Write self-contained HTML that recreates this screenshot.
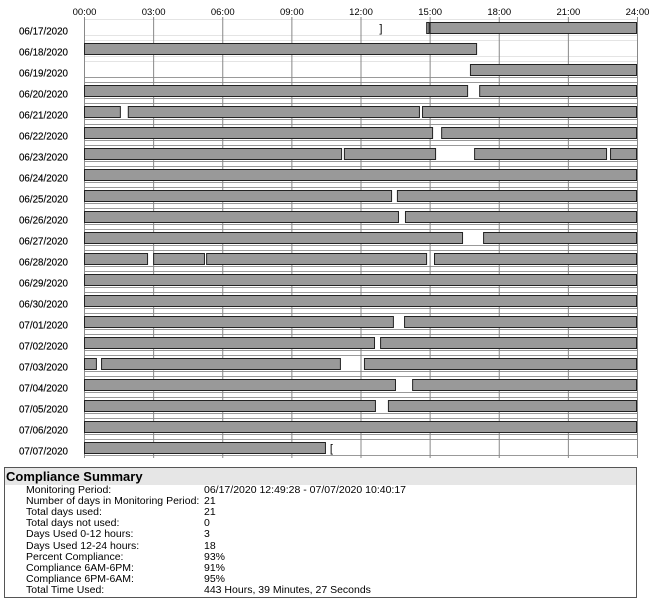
<!DOCTYPE html>
<html><head><meta charset="utf-8"><style>
body{margin:0;background:#fff;font-family:"Liberation Sans",Arial,sans-serif;}
#wrap{position:relative;width:667px;height:613px;}
#sum{position:absolute;left:4px;top:467px;width:633px;height:131px;border:1px solid #555;box-sizing:border-box;overflow:hidden;}
#sum .hd{background:#e6e6e6;font-weight:bold;font-size:13px;height:17px;line-height:17px;padding-left:1px;}
#sum .r{position:absolute;left:21px;font-size:10.5px;line-height:11px;}
#sum .v{position:absolute;left:199px;font-size:10.5px;line-height:11px;}
</style></head><body>
<div id="wrap">
<svg id="chart" width="667" height="465" style="position:absolute;left:0;top:0"></svg>
<div id="sum">
<div class="hd">Compliance Summary</div>
</div>
</div>
<script>
const days=["06/17/2020","06/18/2020","06/19/2020","06/20/2020","06/21/2020","06/22/2020","06/23/2020","06/24/2020","06/25/2020","06/26/2020","06/27/2020","06/28/2020","06/29/2020","06/30/2020","07/01/2020","07/02/2020","07/03/2020","07/04/2020","07/05/2020","07/06/2020","07/07/2020"];
const tickLabels=["00:00","03:00","06:00","09:00","12:00","15:00","18:00","21:00","24:00"];
const segDay=[0,0,1,2,3,3,4,4,4,5,5,6,6,6,6,7,8,8,9,9,10,10,11,11,11,11,12,13,14,14,15,15,16,16,16,17,17,18,18,19,20];
const segStart=[14.85,15.0,0,16.75,0,17.15,0,1.9,14.67,0,15.5,0,11.28,16.93,22.83,0,0,13.58,0,13.93,0,17.32,0,3.0,5.3,15.19,0,0,0,13.89,0,12.85,0,0.74,12.15,0,14.24,0,13.19,0,0];
const segEnd=[15.0,24,17.06,24,16.67,24,1.6,14.58,24,15.15,24,11.2,15.28,22.7,24,24,13.37,24,13.67,24,16.45,24,2.78,5.25,14.89,24,24,24,13.45,24,12.63,24,0.56,11.15,24,13.54,24,12.67,24,24,10.5];
const brackets=[[0,12.82,"]"],[20,10.67,"["]];
const sumLabels=["Monitoring Period:","Number of days in Monitoring Period:","Total days used:","Total days not used:","Days Used 0-12 hours:","Days Used 12-24 hours:","Percent Compliance:","Compliance 6AM-6PM:","Compliance 6PM-6AM:","Total Time Used:"];
const sumValues=["06/17/2020 12:49:28 - 07/07/2020 10:40:17","21","21","0","3","18","93%","91%","95%","443 Hours, 39 Minutes, 27 Seconds"];

const NS="http://www.w3.org/2000/svg",svg=document.getElementById('chart');
const X0=84,X1=637,xs=h=>X0+(X1-X0)*h/24,rowTop=i=>22+21*i;
function mk(t,a,p){const e=document.createElementNS(NS,t);for(const k in a)e.setAttribute(k,a[k]);(p||svg).appendChild(e);return e;}
days.forEach((d,i)=>{
  const y1=rowTop(i)-2.5,y2=rowTop(i)+13.5;
  const l1=mk('line',{x1:X0,x2:X1,y1:y1,y2:y1,stroke:i<3?'#e4e4e4':'#999','stroke-width':1});
  
  
  const l2=mk('line',{x1:X0,x2:X1,y1:y2,y2:y2,stroke:i<2?'#e4e4e4':'#999','stroke-width':1});
  
  
  const t=mk('text',{x:68,y:rowTop(i)+12.5,'text-anchor':'end','font-size':'9.8',fill:'#000',stroke:'#000','stroke-width':'0.15'});
  t.textContent=d;
  
  
});
tickLabels.forEach((s,k)=>{
  const x=xs(k*3)+0.5;
  const l=mk('line',{x1:x,x2:x,y1:17,y2:rowTop(days.length)-5,stroke:'#888','stroke-width':1});
  
  
  const t=mk('text',{x:x,y:15,'text-anchor':'middle','font-size':'9.5',fill:'#000'});
  t.textContent=s;
  
  
});
segDay.forEach((d,i)=>{
  const x=xs(segStart[i]),w=Math.max(1.5,xs(segEnd[i])-x);
  const r=mk('rect',{x:x+0.5,y:rowTop(d)+0.5,width:w-1,height:11,fill:'#999',stroke:'#222','stroke-width':1});
  
  
});
brackets.forEach(b=>{
  const t=mk('text',{x:xs(b[1]),y:rowTop(b[0])+10,'font-size':'11',fill:'#000'});
  t.textContent=b[2];
  
  
});
const sum=document.getElementById('sum');
sumLabels.forEach((s,i)=>{
  const a=document.createElement('div');a.className='r';a.style.top=(17+i*11.1)+'px';a.textContent=s;
  
  
  sum.appendChild(a);
  const b=document.createElement('div');b.className='v';b.style.top=(17+i*11.1)+'px';b.textContent=sumValues[i];
  
  
  sum.appendChild(b);
});
</script>
</body></html>
